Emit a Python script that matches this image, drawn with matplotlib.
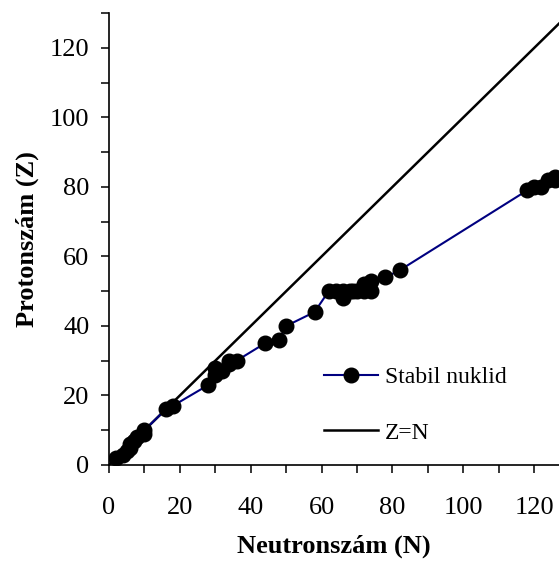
import numpy as np
import matplotlib
matplotlib.use('Agg')
import matplotlib.pyplot as plt
from matplotlib.ticker import MultipleLocator

# Stabil nuklidok (neutronszám, protonszám)
neutron = [2, 4, 5, 6, 6, 7, 8, 10, 10, 16, 18, 28, 30, 30, 32, 34, 34, 36,
           44, 48, 50, 58, 62, 64, 66, 66, 68, 69, 70, 72, 74, 72, 74, 78, 82,
           118, 120, 122, 124, 126, 126]
proton = [2, 3, 4, 5, 6, 7, 8, 9, 10, 16, 17, 23, 26, 28, 27, 29, 30, 30,
          35, 36, 40, 44, 50, 50, 48, 50, 50, 50, 50, 50, 50, 52, 53, 54, 56,
          79, 80, 80, 82, 82, 83]

# Z=N egyenes
zn_x = [0, 130]
zn_y = [0, 130]

plt.rcParams['font.family'] = ['Liberation Serif', 'DejaVu Serif']

fig = plt.figure(figsize=(5.59, 5.62), dpi=100)
ax = fig.add_axes([0.195, 0.1726, 0.805, 0.804])

ax.plot(neutron, proton, color='#000080', linewidth=1.5, marker='o',
        markersize=10.5, markerfacecolor='black', markeredgecolor='black',
        label='Stabil nuklid', zorder=3)
ax.plot(zn_x, zn_y, color='black', linewidth=1.8, label='Z=N', zorder=2)

ax.set_xlim(0, 127)
ax.set_ylim(0, 130)

ax.spines['top'].set_visible(False)
ax.spines['right'].set_visible(False)
ax.spines['left'].set_linewidth(1.2)
ax.spines['bottom'].set_linewidth(1.2)

ax.xaxis.set_major_locator(MultipleLocator(20))
ax.xaxis.set_minor_locator(MultipleLocator(10))
ax.yaxis.set_major_locator(MultipleLocator(20))
ax.yaxis.set_minor_locator(MultipleLocator(10))
ax.tick_params(which='both', direction='out', length=6, width=1.1, labelsize=19)
ax.tick_params(axis='x', pad=17)
ax.tick_params(axis='y', pad=8)

ax.set_xlabel('Neutronszám (N)', fontsize=19, fontweight='bold', labelpad=11)
ax.set_ylabel('Protonszám (Z)', fontsize=19, fontweight='bold', labelpad=8)

ax.legend(loc='lower left', bbox_to_anchor=(0.43, 0.0), frameon=False,
          fontsize=17, labelspacing=1.45, handlelength=2.3, handletextpad=0.3)

fig.savefig('out.png', dpi=100)
